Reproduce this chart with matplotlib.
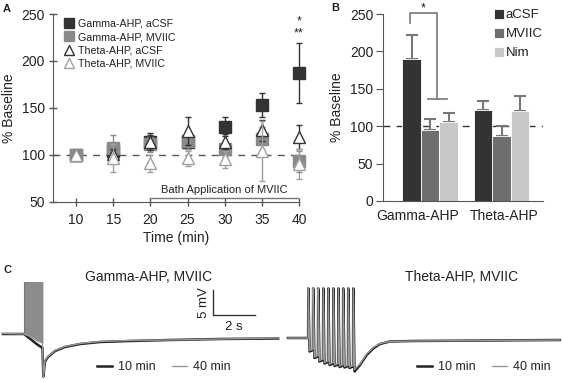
import matplotlib
matplotlib.use("Agg")
import matplotlib.pyplot as plt

plt.rcParams['font.family'] = ['Liberation Sans', 'DejaVu Sans']
plt.rcParams['text.color'] = '#222222'
plt.rcParams['axes.labelcolor'] = '#222222'
plt.rcParams['xtick.color'] = '#555555'
plt.rcParams['ytick.color'] = '#555555'
plt.rcParams['xtick.labelcolor'] = '#222222'
plt.rcParams['ytick.labelcolor'] = '#222222'

# Panel A: AHP time course (% baseline)
time_min = [10, 15, 20, 25, 30, 35, 40]
gamma_acsf = [100, 104, 114, 113, 130, 153, 187]
gamma_acsf_err = [0, 8, 9, 7, 10, 13, 32]
gamma_mviic = [100, 107, 111, 115, 106, 117, 93]
gamma_mviic_err = [0, 14, 8, 9, 8, 12, 11]
theta_acsf = [100, 101, 113, 125, 114, 126, 119]
theta_acsf_err = [0, 5, 8, 15, 8, 11, 13]
theta_mviic = [100, 96, 91, 96, 95, 104, 90]
theta_mviic_err = [0, 15, 9, 8, 9, 32, 16]
bath_start, bath_end = 20, 40

# Panel B: summary bars
groups = ['Gamma-AHP', 'Theta-AHP']
acsf_mean = [190, 121]
acsf_err = [32, 13]
mviic_mean = [95, 87]
mviic_err = [14, 13]
nim_mean = [105, 120]
nim_err = [12, 21]

# Panel C: example traces (time in s, membrane potential in mV rel. to baseline)
gamma_t = [0.0, 1.0, 1.3, 1.6, 1.88, 1.92, 2.0, 2.14, 2.48, 2.95, 3.67, 4.62, 6.05, 7.95, 10.3, 13.1]
gamma_v_10 = [0.0, 0.0, -1.0, -2.0, -2.8, -8.5, -5.5, -4.6, -3.4, -2.6, -2.0, -1.6, -1.4, -1.2, -1.0, -0.9]
gamma_v_40 = [0.1, 0.0, -0.5, -1.3, -1.8, -8.8, -5.3, -4.5, -3.3, -2.5, -1.9, -1.5, -1.3, -1.2, -1.0, -0.8]
gamma_burst_t = [0.98, 1.3, 1.6, 1.9]
gamma_burst_low = [0.0, -0.5, -1.3, -1.8]
gamma_burst_top = 10.5

theta_spike_t = [0.97, 1.2, 1.44, 1.68, 1.92, 2.16, 2.4, 2.63, 2.87, 3.11]
theta_peak = 9.9
theta_trough_10 = [-2.7, -4.0, -4.7, -5.1, -5.4, -5.6, -5.8, -5.9, -6.0, -6.7]
theta_trough_40 = [-2.5, -3.8, -4.5, -4.9, -5.2, -5.4, -5.6, -5.7, -5.8, -6.3]
theta_rec_t = [3.43, 3.75, 4.06, 4.38, 4.86, 5.95, 12.95]
theta_rec_10 = [-5.4, -3.4, -2.1, -1.2, -0.7, -0.6, -0.4]
theta_rec_40 = [-5.2, -3.2, -1.9, -1.1, -0.7, -0.6, -0.4]

dark = '#333333'
mid = '#8a8a8a'
light_edge = '#a0a0a0'

fig = plt.figure(figsize=(5.63, 3.82), dpi=100)

# ---------------- Panel A ----------------
axA = fig.add_axes([53 / 563, 1 - 201.5 / 382, 246 / 563, 187.5 / 382])
axA.axhline(100, color='#555555', lw=1, dashes=(5, 4.5), zorder=0)

series = [
    (gamma_acsf, gamma_acsf_err, 's', dark, dark, dark, 'Gamma-AHP, aCSF'),
    (gamma_mviic, gamma_mviic_err, 's', mid, mid, mid, 'Gamma-AHP, MVIIC'),
    (theta_acsf, theta_acsf_err, '^', 'white', dark, dark, 'Theta-AHP, aCSF'),
    (theta_mviic, theta_mviic_err, '^', 'white', light_edge, light_edge, 'Theta-AHP, MVIIC'),
]
handles = []
for i, (vals, errs, mk, fc, ec, errc, lab) in enumerate(series):
    axA.errorbar(time_min, vals, yerr=errs, fmt='none', ecolor=errc, elinewidth=1,
                 capsize=2.5, capthick=1, zorder=2 + i, clip_on=False)
    h, = axA.plot(time_min, vals, ls='none', marker=mk, ms=8, mfc=fc, mec=ec, mew=1,
                  label=lab, zorder=2.5 + i, clip_on=False)
    handles.append(h)

axA.plot([bath_start, bath_end], [54, 54], color='#777777', lw=1)
axA.text((bath_start + bath_end) / 2, 57, 'Bath Application of MVIIC', ha='center',
         va='bottom', fontsize=8)
axA.text(40, 242, '*', ha='center', va='center', fontsize=9)
axA.text(40, 229, '**', ha='center', va='center', fontsize=9)

axA.set_xlim(6.9, 40)
axA.set_ylim(50, 250)
axA.set_xticks(time_min)
axA.set_yticks([50, 100, 150, 200, 250])
axA.tick_params(direction='inout', length=6, width=1, labelsize=10, pad=3)
axA.tick_params(axis='x', pad=5)
for s in ['top', 'right']:
    axA.spines[s].set_visible(False)
for s in ['left', 'bottom']:
    axA.spines[s].set_color('#555555')
axA.set_xlabel('Time (min)', fontsize=10, labelpad=3)
axA.set_ylabel('% Baseline', fontsize=10, labelpad=4)
axA.legend(handles=handles, loc='upper left', bbox_to_anchor=(64 / 563, 1 - 19 / 382),
           bbox_transform=fig.transFigure, frameon=False, fontsize=7.7, markerscale=0.85,
           handlelength=1.0, handletextpad=0.3, labelspacing=0.3, borderpad=0,
           borderaxespad=0)

# ---------------- Panel B ----------------
axB = fig.add_axes([383 / 563, 1 - 201 / 382, 160 / 563, 187 / 382])
axB.axhline(100, color=dark, lw=1, dashes=(5, 4.5), zorder=0)
group_x = [0, 3.86]
bar_sets = [(acsf_mean, acsf_err, '#333333', 'aCSF'),
            (mviic_mean, mviic_err, '#6e6e6e', 'MVIIC'),
            (nim_mean, nim_err, '#c8c8c8', 'Nim')]
bar_handles = []
for j, (m, e, c, lab) in enumerate(bar_sets):
    xs = [g + j for g in group_x]
    b = axB.bar(xs, m, width=1.0, color=c, edgecolor='white', linewidth=0.6,
                label=lab, zorder=2)
    axB.errorbar(xs, m, yerr=[[0, 0], e], fmt='none', ecolor='#777777', elinewidth=1.5,
                 capsize=4, capthick=1.5, zorder=1.5)
    bar_handles.append(b)

# significance bracket
axB.plot([-0.08, -0.08, 1.38, 1.38], [238, 251, 251, 137], color='#777777', lw=1.2,
         clip_on=False)
axB.plot([0.9, 1.92], [137, 137], color='#777777', lw=1.2)
axB.text(0.62, 258, '*', ha='center', va='center', fontsize=9, clip_on=False)

axB.set_xlim(-1.54, 7.1)
axB.set_ylim(0, 250)
axB.set_yticks([0, 50, 100, 150, 200, 250])
# labels sit a little left of each group's centre, as in the original figure
axB.set_xticks([0.35, 5.0])
axB.set_xticklabels(groups)
axB.tick_params(axis='y', direction='out', length=5, labelsize=10, pad=2)
axB.tick_params(axis='x', length=0, labelsize=10, pad=6)
for s in ['top', 'right']:
    axB.spines[s].set_visible(False)
for s in ['left', 'bottom']:
    axB.spines[s].set_color('#555555')
axB.set_ylabel('% Baseline', fontsize=10, labelpad=4)
axB.legend(handles=bar_handles, loc='upper left', bbox_to_anchor=(494 / 563, 1 - 9 / 382),
           bbox_transform=fig.transFigure, frameon=False, fontsize=9.5,
           handlelength=0.75, handleheight=0.75, handletextpad=0.15, labelspacing=0.5,
           borderpad=0, borderaxespad=0)

# ---------------- Panel C ----------------
axC1 = fig.add_axes([0, 0, 280 / 563, 117 / 382])
axC1.axis('off')
axC1.set_xlim(-0.143, 13.19)
axC1.set_ylim(-9.6, 13.8)
l10, = axC1.plot(gamma_t, gamma_v_10, color='#222222', lw=1.8, label='10 min')
axC1.fill_between(gamma_burst_t, gamma_burst_low, gamma_burst_top, color='#8c8c8c',
                  lw=0, zorder=2)
axC1.plot([gamma_burst_t[0]] * 2, [0, gamma_burst_top], color='#777777', lw=0.8, zorder=2)
l40, = axC1.plot(gamma_t, gamma_v_40, color='#999999', lw=1.0, label='40 min', zorder=3)
axC1.text(0.529, 0.897, 'Gamma-AHP, MVIIC', transform=axC1.transAxes, ha='center',
          va='center', fontsize=10)
# scale bar
axC1.plot([10.0, 10.0, 12.0], [8.8, 3.8, 3.8], color='#333333', lw=1)
axC1.text(9.55, 6.3, '5 mV', rotation=90, ha='center', va='center', fontsize=9.5)
axC1.text(11.0, 1.4, '2 s', ha='center', va='center', fontsize=9.5)
axC1.legend(handles=[l10, l40], loc='center left', bbox_to_anchor=(0.345, 0.128),
            frameon=False, ncol=2, fontsize=9, handlelength=1.2, handletextpad=0.5,
            columnspacing=1.3, borderpad=0, borderaxespad=0)

axC2 = fig.add_axes([280 / 563, 0, 283 / 563, 117 / 382])
axC2.axis('off')
axC2.set_xlim(-0.38, 13.1)
axC2.set_ylim(-8.8, 14.6)


def theta_trace(troughs, rec):
    t = [0.0, theta_spike_t[0] - 0.01]
    v = [0.0, 0.0]
    for k, st in enumerate(theta_spike_t):
        t += [st, st + 0.06]
        v += [theta_peak, troughs[k]]
        if k + 1 < len(theta_spike_t):
            t.append(theta_spike_t[k + 1] - 0.01)
            v.append(troughs[k] + 0.3)
    return t + theta_rec_t, v + rec


t10, v10 = theta_trace(theta_trough_10, theta_rec_10)
t40, v40 = theta_trace(theta_trough_40, theta_rec_40)
m10, = axC2.plot(t10, v10, color='#222222', lw=1.8, label='10 min')
m40, = axC2.plot(t40, v40, color='#999999', lw=1.0, label='40 min')
axC2.text(0.643, 0.897, 'Theta-AHP, MVIIC', transform=axC2.transAxes, ha='center',
          va='center', fontsize=10)
axC2.legend(handles=[m10, m40], loc='center left', bbox_to_anchor=(0.484, 0.128),
            frameon=False, ncol=2, fontsize=9, handlelength=1.2, handletextpad=0.5,
            columnspacing=1.3, borderpad=0, borderaxespad=0)

# panel letters
fig.text(7 / 563, 1 - 8.5 / 382, 'A', fontsize=8, fontweight='bold', ha='center', va='center')
fig.text(335 / 563, 1 - 8 / 382, 'B', fontsize=8, fontweight='bold', ha='center', va='center')
fig.text(7 / 563, 1 - 270 / 382, 'C', fontsize=8, fontweight='bold', ha='center', va='center')

fig.savefig('out.png', dpi=100)
